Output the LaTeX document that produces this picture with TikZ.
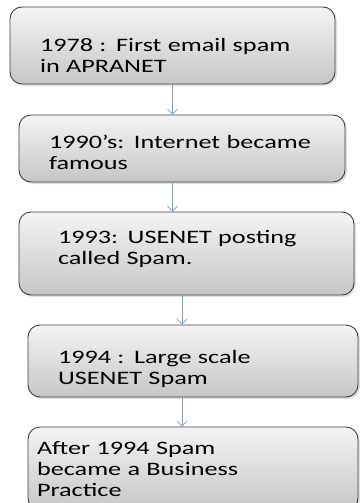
\documentclass[tikz,border=0pt]{standalone}
\usepackage{fontspec}
\setmainfont{Carlito}[FakeStretch=1.38]
\usetikzlibrary{shadows,arrows,arrows.meta}

\definecolor{boxtop}{HTML}{F4F4F4}
\definecolor{boxbot}{HTML}{C6C6C6}
\definecolor{boxline}{HTML}{3F3F3F}
\definecolor{linkblue}{HTML}{7F9CC8}

% fixed height of first line / depth of last line
\newcommand{\tlstrut}[1]{\rule{0pt}{#1pt}}
\newcommand{\blstrut}[1]{\rule[-#1pt]{0pt}{0pt}}

\begin{document}
\begin{tikzpicture}[x=1pt,y=-1pt,
        event/.style={draw=boxline,line width=0.9pt,rounded corners=12pt,
            top color=boxtop,bottom color=boxbot,
            drop shadow={shadow xshift=2pt,shadow yshift=-2pt,opacity=0.25},
            align=left,inner ysep=0pt,
            font=\fontsize{19}{21}\selectfont},
        link/.style={-{Straight Barb[length=5pt,width=10pt,line width=0.7pt]},draw=linkblue,line width=0.7pt}]
    \useasboundingbox (0,0) rectangle (359,503);
        % timeline boxes
        \node[event,minimum height=77pt,inner xsep=30pt,text width=265pt] (b1) at (172.5,45.5) {\tlstrut{39}1978 : First email spam\\in APRANET\blstrut{5}};
        \node[event,minimum height=67pt,inner xsep=30pt,text width=266pt] (b2) at (182,148.5) {\tlstrut{25}1990’s: Internet became\\famous\blstrut{5}};
        \node[event,minimum height=83pt,inner xsep=39pt,text width=257pt] (b3) at (186.5,253.5) {\tlstrut{15}1993: USENET posting\\called Spam.\blstrut{15}};
        \node[event,minimum height=72pt,inner xsep=30pt,text width=270pt] (b4) at (193,361) {\tlstrut{30}1994 : Large scale\\USENET Spam\blstrut{5}};
        \node[event,minimum height=83pt,inner xsep=9pt,text width=312pt] (b5) at (193,468.5) {\tlstrut{18}After 1994 Spam\\became a Business\\Practice\blstrut{5}};
        % arrows
        \draw[link] (b1.south) -- (b1.south |- b2.north);
        \draw[link] (b2.south -| b1.south) -- (b1.south |- b3.north);
        \draw[link] (b3.south -| b2.south) -- (b2.south |- b4.north);
        \draw[link] (b4.south -| b2.south) -- (b2.south |- b5.north);
\end{tikzpicture}
\end{document}
